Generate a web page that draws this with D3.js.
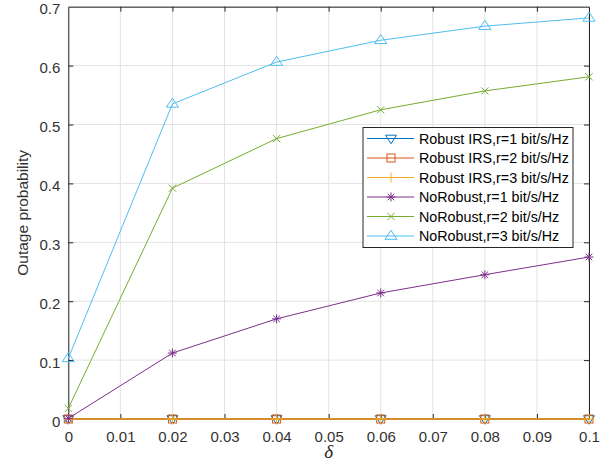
<!DOCTYPE html>
<html>
<head>
<meta charset="utf-8">
<script src="https://cdn.jsdelivr.net/npm/d3@7"></script>
<style>
  html, body { margin: 0; padding: 0; background: #fff; }
  svg { display: block; }
  text { font-family: "Liberation Sans", Arial, Helvetica, sans-serif; }
</style>
</head>
<body>
<svg id="chart" width="610" height="467"></svg>
<script>
// Outage probability versus channel-error bound delta
const deltas = [0, 0.02, 0.04, 0.06, 0.08, 0.1];
const robustR1 = [0, 0, 0, 0, 0, 0];
const robustR2 = [0, 0, 0, 0, 0, 0];
const robustR3 = [0, 0, 0, 0, 0, 0];
const noRobustR1 = [0.001, 0.112, 0.170, 0.214, 0.245, 0.275];
const noRobustR2 = [0.018, 0.392, 0.476, 0.525, 0.557, 0.581];
const noRobustR3 = [0.103, 0.535, 0.606, 0.643, 0.667, 0.681];

const xTicks = [0, 0.01, 0.02, 0.03, 0.04, 0.05, 0.06, 0.07, 0.08, 0.09, 0.1];
const yTicks = [0, 0.1, 0.2, 0.3, 0.4, 0.5, 0.6, 0.7];

const seriesNames = [
  "Robust IRS,r=1 bit/s/Hz",
  "Robust IRS,r=2 bit/s/Hz",
  "Robust IRS,r=3 bit/s/Hz",
  "NoRobust,r=1 bit/s/Hz",
  "NoRobust,r=2 bit/s/Hz",
  "NoRobust,r=3 bit/s/Hz"
];
const seriesValues = [robustR1, robustR2, robustR3, noRobustR1, noRobustR2, noRobustR3];
const seriesColors = ["#0072BD", "#D95319", "#EDB120", "#7E2F8E", "#77AC30", "#4DBEEE"];
const seriesMarkers = ["triDown", "square", "plus", "star", "cross", "triUp"];

const svg = d3.select("#chart");
const margin = { left: 68.3, right: 21, top: 6.7, bottom: 48 };
const W = 610, H = 467;
const x = d3.scaleLinear().domain([0, 0.1]).range([margin.left, W - margin.right]);
const y = d3.scaleLinear().domain([0, 0.7]).range([H - margin.bottom, margin.top]);
const axisColor = "#262626";

// grid
const grid = svg.append("g");
grid.selectAll("line.gx").data(xTicks).join("line")
  .attr("x1", d => x(d)).attr("x2", d => x(d))
  .attr("y1", y(0)).attr("y2", y(0.7))
  .attr("stroke", "#e3e3e3").attr("stroke-width", 1);
grid.selectAll("line.gy").data(yTicks).join("line")
  .attr("y1", d => y(d)).attr("y2", d => y(d))
  .attr("x1", x(0)).attr("x2", x(0.1))
  .attr("stroke", "#e3e3e3").attr("stroke-width", 1);

// axes: ticks point inward on all four sides
const tickLen = 5;
const fmt = d => d === 0 ? "0" : d3.format("~g")(d);
const xb = svg.append("g").attr("transform", `translate(0,${y(0)})`)
  .call(d3.axisBottom(x).tickValues(xTicks).tickSizeInner(-tickLen).tickSizeOuter(0)
    .tickPadding(12.5).tickFormat(fmt));
const xt = svg.append("g").attr("transform", `translate(0,${y(0.7)})`)
  .call(d3.axisTop(x).tickValues(xTicks).tickSizeInner(-tickLen).tickSizeOuter(0).tickFormat(""));
const yl = svg.append("g").attr("transform", `translate(${x(0)},0)`)
  .call(d3.axisLeft(y).tickValues(yTicks).tickSizeInner(-tickLen).tickSizeOuter(0)
    .tickPadding(8).tickFormat(fmt));
const yr = svg.append("g").attr("transform", `translate(${x(0.1)},0)`)
  .call(d3.axisRight(y).tickValues(yTicks).tickSizeInner(-tickLen).tickSizeOuter(0).tickFormat(""));
[xb, xt, yl, yr].forEach(g => {
  g.attr("font-size", null).attr("font-family", null);
  g.select(".domain").attr("stroke", axisColor).attr("stroke-width", 1);
  g.selectAll(".tick line").attr("stroke", axisColor).attr("stroke-width", 1);
  g.selectAll(".tick text").attr("fill", "#333").style("font-size", "15px");
});
yl.selectAll(".tick text").attr("dy", "0.47em");
xb.selectAll(".tick line").filter(d => d === 0 || d === 0.1).remove();
xt.selectAll(".tick line").filter(d => d === 0 || d === 0.1).remove();
yl.selectAll(".tick line").filter(d => d === 0 || d === 0.7).remove();
yr.selectAll(".tick line").filter(d => d === 0 || d === 0.7).remove();

// axis titles
svg.append("text")
  .attr("x", (x(0) + x(0.1)) / 2).attr("y", 458)
  .attr("text-anchor", "middle")
  .style("font-family", "'Liberation Serif', 'DejaVu Serif', serif")
  .attr("font-style", "italic").style("font-size", "19px").attr("fill", axisColor)
  .text("δ");
svg.append("text")
  .attr("transform", `translate(28,${(y(0) + y(0.7)) / 2}) rotate(-90)`)
  .attr("text-anchor", "middle")
  .style("font-size", "15.5px").attr("fill", "#333")
  .text("Outage probability");

// marker shapes
function drawMarker(g, type, cx, cy, color) {
  const s = 5.5;
  if (type === "triDown") {
    g.append("path").attr("d", `M${cx - s},${cy - s * 0.6}L${cx + s},${cy - s * 0.6}L${cx},${cy + s * 0.95}Z`)
      .attr("fill", "none").attr("stroke", color).attr("stroke-width", 1);
  } else if (type === "triUp") {
    g.append("path").attr("d", `M${cx - s * 1.1},${cy + s * 0.6}L${cx + s * 1.1},${cy + s * 0.6}L${cx},${cy - s * 1.05}Z`)
      .attr("fill", "none").attr("stroke", color).attr("stroke-width", 1);
  } else if (type === "square") {
    const h = 4;
    g.append("rect").attr("x", cx - h).attr("y", cy - h).attr("width", 2 * h).attr("height", 2 * h)
      .attr("fill", "none").attr("stroke", color).attr("stroke-width", 1);
  } else if (type === "plus") {
    const h = 5;
    g.append("path").attr("d", `M${cx - h},${cy}L${cx + h},${cy}M${cx},${cy - h}L${cx},${cy + h}`)
      .attr("stroke", color).attr("stroke-width", 1);
  } else if (type === "cross") {
    const h = 3.6;
    g.append("path").attr("d", `M${cx - h},${cy - h}L${cx + h},${cy + h}M${cx - h},${cy + h}L${cx + h},${cy - h}`)
      .attr("stroke", color).attr("stroke-width", 1);
  } else if (type === "star") {
    const h = 4.5, d = 3.3;
    g.append("path").attr("d",
      `M${cx - h},${cy}L${cx + h},${cy}M${cx},${cy - h}L${cx},${cy + h}` +
      `M${cx - d},${cy - d}L${cx + d},${cy + d}M${cx - d},${cy + d}L${cx + d},${cy - d}`)
      .attr("stroke", color).attr("stroke-width", 1);
  }
}

// series; the three robust curves lie on top of each other along zero
const line = d3.line().x(d => x(d[0])).y(d => y(d[1]));
const plot = svg.append("g");
const flatOpacity = [1, 0.8, 0.6];
seriesValues.forEach((vals, i) => {
  const pts = deltas.map((d, k) => [d, vals[k]]);
  const g = plot.append("g");
  const isFlat = i < 3;
  g.append("path").datum(pts).attr("d", line)
    .attr("fill", "none").attr("stroke", seriesColors[i])
    .attr("stroke-width", isFlat ? 2.2 : 1)
    .attr("stroke-opacity", isFlat ? flatOpacity[i] : 1);
  pts.forEach(p => drawMarker(g, seriesMarkers[i], x(p[0]), y(p[1]), seriesColors[i]));
});

// legend
const lg = svg.append("g");
const lx = 363, ly = 127.5, lw = 210, lh = 120;
lg.append("rect").attr("x", lx).attr("y", ly).attr("width", lw).attr("height", lh)
  .attr("fill", "#fff").attr("stroke", axisColor).attr("stroke-width", 1);
seriesNames.forEach((name, i) => {
  const cy = ly + 11 + i * 19.5;
  lg.append("line").attr("x1", lx + 4).attr("x2", lx + 51).attr("y1", cy).attr("y2", cy)
    .attr("stroke", seriesColors[i]).attr("stroke-width", 1);
  drawMarker(lg, seriesMarkers[i], lx + 28, cy, seriesColors[i]);
  lg.append("text").attr("x", lx + 56).attr("y", cy + 5)
    .style("font-size", "14.3px").attr("fill", "#000").text(name);
});
</script>
</body>
</html>
